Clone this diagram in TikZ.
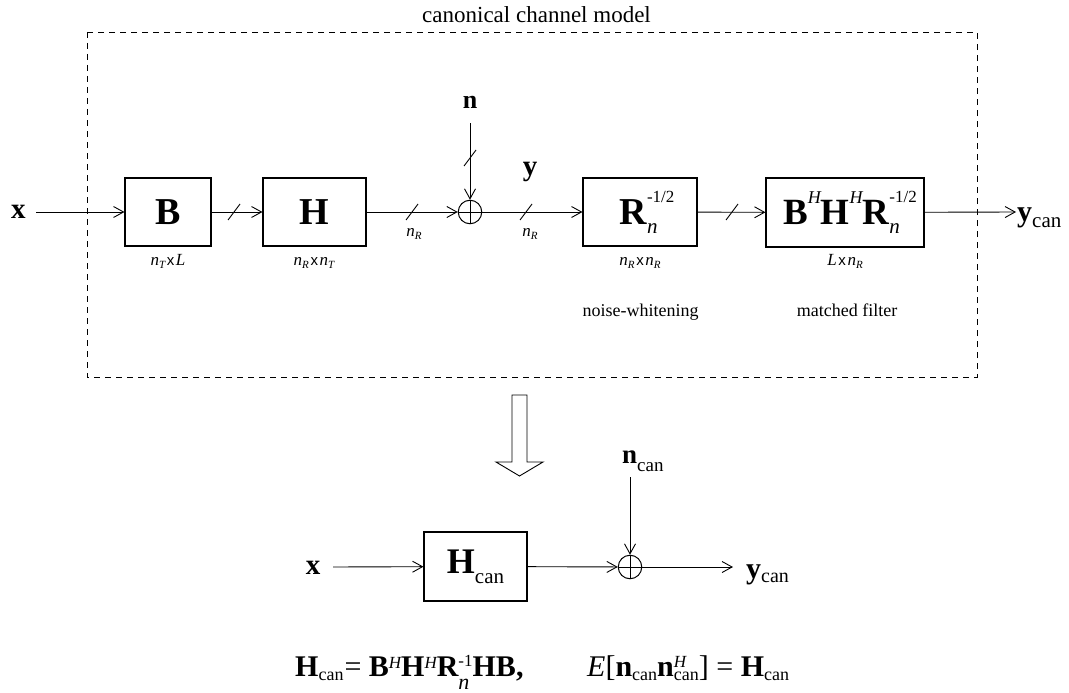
\documentclass[tikz,border=0pt]{standalone}
\usepackage{fontspec}
\setmainfont{Liberation Serif}
\setsansfont{Liberation Sans}
\usetikzlibrary{arrows.meta}

% font size in pt (one unit of the picture is one pt)
\newcommand\fsz[1]{\fontsize{#1}{#1}\selectfont}
% lowered text: amount, size, text
\newcommand\lowered[3]{\raisebox{-#1}{\fsz{#2}#3}}
% stacked superscript / subscript: raise, sup text, lower, sub text
\newsavebox\upscript
\newsavebox\dnscript
\newcommand\suppsub[4]{%
  \sbox\upscript{\raisebox{#1}{#2}}%
  \sbox\dnscript{\raisebox{-#3}{#4}}%
  \ifdim\wd\upscript>\wd\dnscript
    \rlap{\usebox\dnscript}\usebox\upscript
  \else
    \rlap{\usebox\upscript}\usebox\dnscript
  \fi}
% dimension labels such as n_R
\newcommand\dimn[1]{{\fsz{17}\itshape n}\lowered{3pt}{11}{\itshape #1}}
\newcommand\dimx{\,{\fsz{15}\sffamily x}\,}

\begin{document}
\begin{tikzpicture}[x=1pt,y=-1pt,
  blk/.style={draw, line width=1.1pt, inner sep=0pt},
  wire/.style={line width=0.9pt},
  sig/.style={wire, -{Straight Barb[length=10pt,width=11pt]}},
  summer/.style={draw, circle, line width=1pt, minimum size=23.5pt, inner sep=0pt},
  lbl/.style={inner sep=0pt},
  slashmark/.pic={\draw[line width=0.9pt] (-6,8) -- (6,-8);},
]
\fill[white] (0,0) rectangle (1069,693);
\useasboundingbox (0,0) rectangle (1069,693);

% ---------- canonical channel model ----------
\draw[line width=0.8pt, dash pattern=on 6pt off 5pt] (87,32) rectangle (977,377);
\node[lbl, anchor=base] (title) at (536.5,23) {\fsz{23}canonical channel model};

\node[blk, minimum width=86pt, minimum height=68pt] (B) at (168,212) {\fsz{38}\bfseries B};
\node[blk, minimum width=103pt, minimum height=68pt] (H) at (314.5,212) {\fsz{38}\bfseries H};
\node[summer] (sum) at (470,212) {};
\node[blk, minimum width=114pt, minimum height=68pt] (W) at (640,212)
  {\hspace*{14pt}\fsz{38}{\bfseries R}\suppsub{22pt}{\fsz{17}-1/2}{9pt}{\fsz{21}\itshape n}};
\node[blk, minimum width=158pt, minimum height=69pt] (F) at (845,212.5)
  {\hspace*{10pt}\fsz{37}{\bfseries B}\raisebox{21pt}{\fsz{18}\itshape H}{\bfseries H}\raisebox{21pt}{\fsz{18}\itshape H}{\bfseries R}\suppsub{22pt}{\fsz{17}-1/2}{9pt}{\fsz{21}\itshape n}};

\node[lbl] (xin) at (18.5,212) {\fsz{29}\bfseries x};
\coordinate (xs) at (36,212);
\node[lbl, anchor=base] (nlab) at (470,108) {\fsz{26}\bfseries n};
\coordinate (ns) at (470,123);
\node[lbl, anchor=base] (ylab) at (530,175) {\fsz{29}\bfseries y};
\coordinate (ye) at (1016,212);
\node[lbl, anchor=base west] (yout) at (1017,221) {{\fsz{30}\bfseries y}\lowered{6pt}{21}{can}};

\draw[sig] (xs) -- (B);
\draw[sig] (B) -- (H);
\draw[sig] (H) -- (sum);
\draw[sig] (sum) -- (W);
\draw[sig] (W) -- (F);
\draw[sig] (F) -- (ye);
\draw[sig] (ns) -- (sum);
\draw[wire] (sum.north) -- (sum.south) (sum.west) -- (sum.east);

\pic at (234,212) {slashmark};
\pic at (412,212) {slashmark};
\pic at (526,212) {slashmark};
\pic at (732,212) {slashmark};
\pic at (470,158) {slashmark};

\node[lbl, anchor=base] (dB) at (168,265) {\dimn{T}\dimx{\fsz{17}\itshape L}};
\node[lbl, anchor=base] (dH) at (314,265) {\dimn{R}\dimx\dimn{T}};
\node[lbl, anchor=base] (dW) at (640,265) {\dimn{R}\dimx\dimn{R}};
\node[lbl, anchor=base] (dF) at (845,265) {{\fsz{17}\itshape L}\dimx\dimn{R}};
\node[lbl, anchor=base] (d1) at (414,236) {\dimn{R}};
\node[lbl, anchor=base] (d2) at (530,236) {\dimn{R}};

\node[lbl, anchor=base] (tW) at (640.5,316) {\fsz{18}noise-whitening};
\node[lbl, anchor=base] (tF) at (847,316) {\fsz{18}matched filter};

% ---------- hollow arrow ----------
\draw[line width=0.9pt] (512,395) -- (527,395) -- (527,462) -- (543,462)
  -- (519.5,476) -- (496,462) -- (512,462) -- cycle;

% ---------- equivalent model ----------
\node[lbl] (xin2) at (313,568) {\fsz{29}\bfseries x};
\coordinate (xs2) at (333,567);
\node[blk, minimum width=103pt, minimum height=69pt] (Hc) at (475.5,566.5)
  {{\fsz{36}\bfseries H}\lowered{10pt}{21}{can}};
\node[summer] (sum2) at (630,567) {};
\node[lbl, anchor=base west] (nc) at (622,463) {{\fsz{27}\bfseries n}\lowered{8pt}{19}{can}};
\coordinate (ns2) at (630,477);
\coordinate (ye2) at (733,567);
\node[lbl, anchor=base west] (yout2) at (746,578) {{\fsz{30}\bfseries y}\lowered{4pt}{20}{can}};

\draw[sig] (xs2) -- (Hc);
\draw[sig] (Hc) -- (sum2);
\draw[sig] (ns2) -- (sum2);
\draw[sig] (sum2) -- (ye2);
\draw[wire] (sum2.north) -- (sum2.south) (sum2.west) -- (sum2.east);

% ---------- equations ----------
\node[lbl, anchor=base west] (eq1) at (295,676)
  {\fsz{30}{\bfseries H}\lowered{4pt}{18}{can}\hspace{1pt}= {\bfseries B}\raisebox{8pt}{\fsz{17}\itshape H}{\bfseries H}\raisebox{8pt}{\fsz{17}\itshape H}{\bfseries R}\suppsub{10pt}{\fsz{17}-1}{13pt}{\fsz{22}\itshape n}{\bfseries HB,}};
\node[lbl, anchor=base west] (eq2) at (587,676)
  {\fsz{30}{\itshape E}[{\bfseries n}\lowered{4pt}{18}{can}{\bfseries n}\suppsub{9pt}{\fsz{17}\itshape H}{4pt}{\fsz{18}can}] = {\bfseries H}\lowered{4pt}{18}{can}};
\end{tikzpicture}
\end{document}
